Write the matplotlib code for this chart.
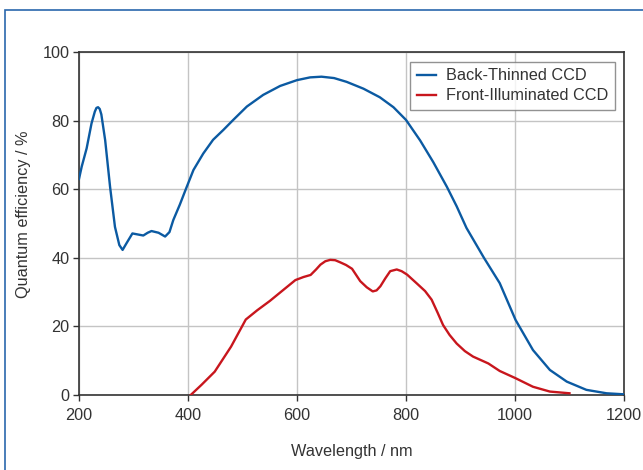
import matplotlib
matplotlib.use("Agg")
import matplotlib.pyplot as plt
from matplotlib.patches import Rectangle

plt.rcParams['font.family'] = ['Liberation Sans', 'DejaVu Sans']

bt_wl = [200, 205, 214, 223, 229, 232, 235, 238, 241, 248, 257, 266, 274, 280, 287, 298, 308, 318, 326, 333,
         346, 358, 366, 373, 385, 396, 410, 428, 446, 465, 483, 508, 538, 569, 600, 624, 645,
         668, 691, 722, 752, 777, 800, 826, 850, 875, 893, 911, 943, 972, 1001,
         1033, 1064, 1095, 1131, 1168, 1200]
bt_qe = [63, 66.6, 71.9, 79.2, 82.6, 83.7, 83.9, 83.4, 81.8, 74.3, 60.7, 49, 43.7, 42.3, 44.2, 47.1, 46.8, 46.5, 47.3, 47.8,
         47.3, 46.2, 47.5, 51, 55.5, 60, 65.6, 70.4, 74.4, 77.3, 80.2, 84.1, 87.5, 90.1, 91.8, 92.6, 92.8,
         92.4, 91.3, 89.3, 86.8, 83.9, 80.2, 74.2, 67.9, 60.7, 55, 48.7, 40, 32.6, 21.9,
         13.1, 7.3, 3.9, 1.5, 0.5, 0.2]

fi_wl = [405, 425, 449, 479, 506, 527, 550, 570, 597, 612, 625, 635, 643, 652, 661, 670, 679, 690,
         701, 716, 728, 739, 746, 753, 762, 771, 783, 792, 802, 820, 835, 847, 858, 868, 880,
         893, 908, 923, 951, 972, 1001, 1033, 1064, 1100]
fi_qe = [0, 3, 6.8, 14.1, 22, 24.7, 27.4, 30, 33.5, 34.4, 35, 36.6, 38, 39, 39.4, 39.3, 38.7, 37.9,
         36.8, 33.2, 31.4, 30.2, 30.5, 31.7, 34, 36.1, 36.6, 36.1, 35.1, 32.5, 30.3, 27.8, 24, 20.4, 17.5,
         15, 12.8, 11.2, 9.2, 7, 4.9, 2.4, 1.0, 0.5]

labels = ["Back-Thinned CCD", "Front-Illuminated CCD"]
xticks = [200, 400, 600, 800, 1000, 1200]
yticks = [0, 20, 40, 60, 80, 100]

txt = '#333333'
fs = 11.7
fig = plt.figure(figsize=(6.43, 4.70), dpi=100)
ax = fig.add_axes([79/643, 1-395/470, 545/643, 343/470])

ax.plot(bt_wl, bt_qe, color='#0b5aa2', lw=1.7, label=labels[0], zorder=3,
        solid_joinstyle='round')
ax.plot(fi_wl, fi_qe, color='#c8161d', lw=1.7, label=labels[1], zorder=3,
        solid_joinstyle='round')

ax.set_xlim(200, 1200)
ax.set_ylim(0, 100)
ax.set_xticks(xticks)
ax.set_yticks(yticks)
ax.grid(True, color='#c4c4c4', lw=1.0)
ax.set_axisbelow(True)
for s in ax.spines.values():
    s.set_color('#333333')
    s.set_linewidth(1.2)
ax.tick_params(axis='both', colors='#333333', labelcolor=txt, labelsize=fs, length=4, width=1, direction='out')
ax.tick_params(axis='x', pad=5)
ax.tick_params(axis='y', pad=3)
ax.set_xlabel("Wavelength / nm", fontsize=fs, color=txt)
ax.set_ylabel("Quantum efficiency / %", fontsize=fs, color=txt)
ax.xaxis.set_label_coords(0.5, -0.143)
ax.yaxis.set_label_coords(-0.088, 0.528)

leg = ax.legend(loc='upper right', bbox_to_anchor=(0.983, 0.971), fontsize=fs,
                frameon=True, fancybox=False, handlelength=1.2, handletextpad=0.6,
                borderpad=0.4, labelspacing=0.3, borderaxespad=0)
leg.get_frame().set_edgecolor('#777777')
leg.get_frame().set_linewidth(1.0)
for t in leg.get_texts():
    t.set_color(txt)

fig.add_artist(Rectangle((5/643, -0.5), 2.0, 1.5 - 10/470, transform=fig.transFigure,
                         fill=False, edgecolor='#2a67ad', lw=1.2))

fig.savefig("out.png", dpi=100)
